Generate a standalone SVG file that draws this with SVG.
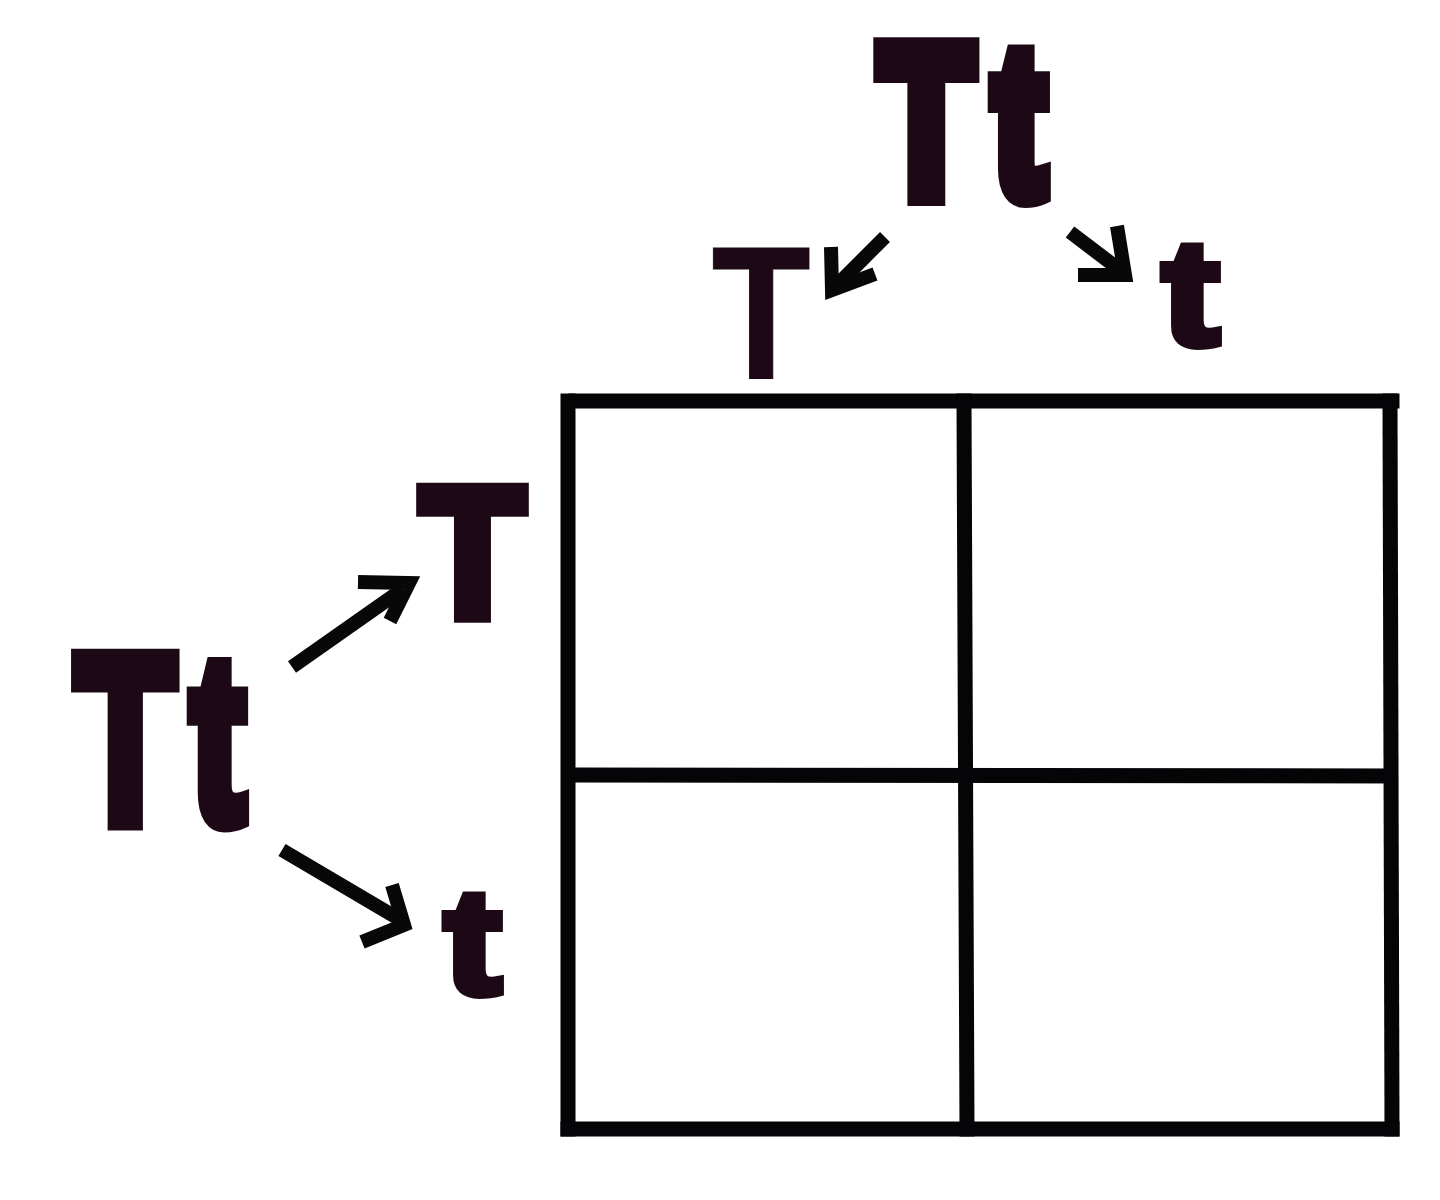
<svg xmlns="http://www.w3.org/2000/svg" width="1440" height="1200" viewBox="0 0 1440 1200">
<style>
.lbl{font-family:"Liberation Sans",Arial,sans-serif;font-weight:700;fill:#1c0915;stroke:#1c0915;stroke-linejoin:miter;stroke-miterlimit:3}
.grid{stroke:#050507;stroke-width:15;fill:none;stroke-linecap:square}
.arr{stroke:#080808;stroke-width:14;fill:none;stroke-linecap:butt;stroke-linejoin:miter}
</style>
<rect width="1440" height="1200" fill="#ffffff"/>
<g id="punnett-grid">
<line class="grid" x1="568" y1="401" x2="568" y2="1129"/>
<line class="grid" x1="576" y1="401" x2="1392" y2="401"/>
<line class="grid" x1="1390" y1="401" x2="1392" y2="1129"/>
<line class="grid" x1="568" y1="1129" x2="1392" y2="1129"/>
<line class="grid" x1="964" y1="401" x2="967" y2="1129"/>
<line class="grid" x1="576" y1="775" x2="1390" y2="776"/>
</g>
<g id="parent-top">
<text class="lbl" transform="translate(879.5,194.5) scale(0.72,1)" font-size="213" stroke-width="22">T<tspan dx="28.6">t</tspan></text>
</g>
<g id="parent-left">
<text class="lbl" transform="translate(75,821.5) scale(0.686,1)" font-size="240" stroke-width="16.9">T<tspan dx="21.8">t</tspan></text>
</g>
<g id="gamete-top-T">
<text class="lbl" transform="translate(711.4,378) scale(0.86,1)" font-size="189" stroke="none">T</text>
</g>
<g id="gamete-top-t">
<text class="lbl" transform="translate(1162,345) scale(1.15,1)" font-size="150" stroke-width="8">t</text>
</g>
<g id="gamete-left-T">
<text class="lbl" transform="translate(420.5,616.3) scale(0.925,1)" font-size="184" stroke-width="13.5">T</text>
</g>
<g id="gamete-left-t">
<text class="lbl" transform="translate(444,994) scale(1.15,1)" font-size="150" stroke-width="8">t</text>
</g>
<g id="connectors">
<path class="arr" d="M885,237 L836,286"/>
<path class="arr" d="M831,247 L832,290 L875,274"/>
<path class="arr" d="M1070,232 L1120,270"/>
<path class="arr" d="M1117,226 L1125,275 L1078,275"/>
<path class="arr" d="M292,667 L403,589"/>
<path class="arr" d="M358,582 L409,583 L390,621"/>
<path class="arr" d="M282,850 L399,919"/>
<path class="arr" d="M392,885 L404,925 L362,942"/>
</g>
</svg>
